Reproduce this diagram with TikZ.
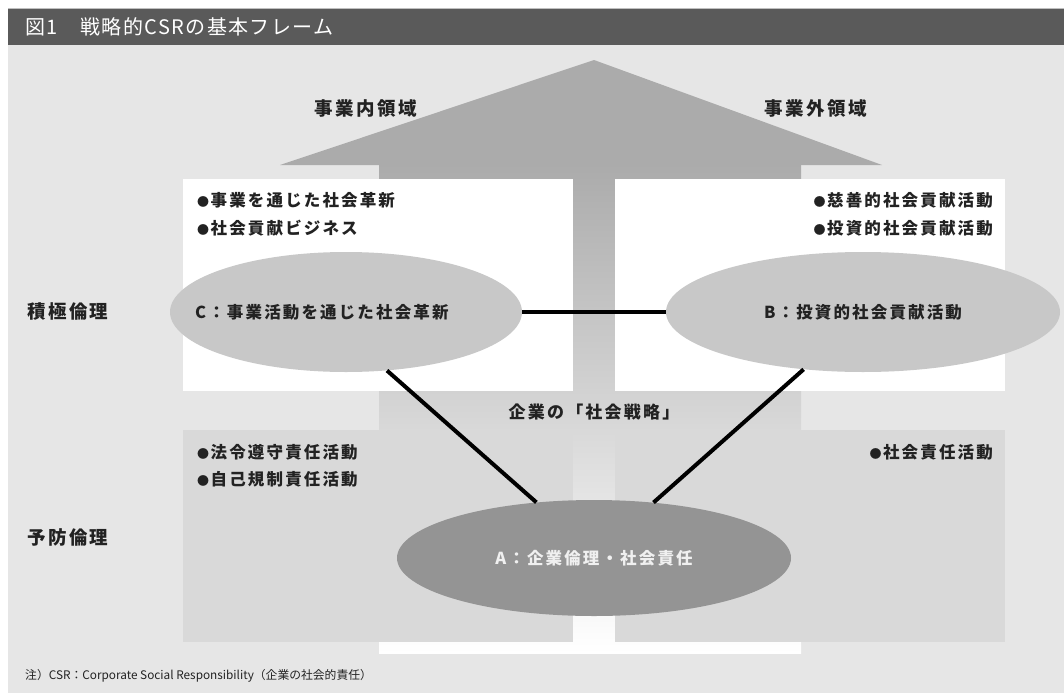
\documentclass[tikz,border=0pt]{standalone}
\usepackage{fontspec}
\setmainfont{Noto Sans CJK JP}
\newfontfamily\jpsp[LetterSpace=13]{Noto Sans CJK JP}
\newfontfamily\jptitle[LetterSpace=7]{Noto Sans CJK JP}
\usetikzlibrary{shapes.geometric}
\definecolor{panel}{HTML}{E6E6E6}
\definecolor{bar}{HTML}{5A5A5A}
\definecolor{headc}{HTML}{ABABAB}
\definecolor{lowbox}{HTML}{D9D9D9}
\definecolor{ellC}{HTML}{C8C8C8}
\definecolor{ellA}{HTML}{949494}
\definecolor{txt}{HTML}{222222}
\newcommand\bul{{\fontsize{12}{12}\selectfont ●}\hspace{1.5pt}}
\tikzset{
  lbl/.style={inner sep=0pt, text=txt, font=\jpsp\bfseries\fontsize{16.5}{18}\selectfont},
  big/.style={inner sep=0pt, text=txt, font=\jpsp\bfseries\fontsize{18.5}{21}\selectfont},
  ell/.style={ellipse, inner sep=0pt},
  link/.style={line width=4pt, black},
}
\begin{document}
\begin{tikzpicture}[x=1pt,y=-1pt]
\useasboundingbox (0,0) rectangle (1064,693);
\fill[white] (0,0) rectangle (1064,693);
\fill[panel] (8,45) rectangle (1064,693);
\fill[bar] (8,8) rectangle (1064,45);
\draw[white!75!black, line width=1pt] (8,8.5) -- (1064,8.5);
\node[anchor=west, inner sep=0pt, text=white, font=\jptitle\fontsize{20}{22}\selectfont] (title) at (25,27) {図1　戦略的CSRの基本フレーム};
% big arrow
\shade[top color=headc, bottom color=white] (379,164) rectangle (801,653);
\fill[headc] (280,165) -- (594,60) -- (882,165) -- cycle;
% boxes
\fill[white] (183,179) rectangle (573,391);
\fill[white] (615,179) rectangle (1005,391);
\fill[lowbox] (183,430) rectangle (573,642);
\fill[lowbox] (615,430) rectangle (1005,642);
% labels
\node[big] (inner) at (366,108) {事業内領域};
\node[big] (outer) at (816,108) {事業外領域};
\node[big, anchor=west] (active) at (27,312) {積極倫理};
\node[big, anchor=west] (prevent) at (27,537) {予防倫理};
\node[lbl, anchor=west] (tl1) at (197,200) {\bul 事業を通じた社会革新};
\node[lbl, anchor=west] (tl2) at (197,228) {\bul 社会貢献ビジネス};
\node[lbl, anchor=east] (tr1) at (993,200) {\bul 慈善的社会貢献活動};
\node[lbl, anchor=east] (tr2) at (993,228) {\bul 投資的社会貢献活動};
\node[lbl, anchor=west] (bl1) at (197,452) {\bul 法令遵守責任活動};
\node[lbl, anchor=west] (bl2) at (197,479) {\bul 自己規制責任活動};
\node[lbl, anchor=east] (br1) at (993,452) {\bul 社会責任活動};
\node[lbl, font=\jpsp\bfseries\fontsize{17}{20}\selectfont] (strat) at (594,412) {企業の「社会戦略」};
% ellipses
\node[ell, fill=ellC, minimum width=352pt, minimum height=120pt] (C) at (346,312) {};
\node[lbl, anchor=west] (Ct) at (195,312) {C：事業活動を通じた社会革新};
\node[ell, fill=ellC, minimum width=394pt, minimum height=120pt, lbl] (B) at (863,312) {B：投資的社会貢献活動};
\node[ell, fill=ellA, minimum width=394pt, minimum height=116pt, lbl, text=white!94!black] (A) at (594,558) {A：企業倫理・社会責任};
% connectors
\draw[link] (C.east) -- (B.west);
\draw[link] (C.-55.6) -- (A.136.4);
\draw[link] (B.-136.4) -- (A.43.6);
% footnote
\node[anchor=west, inner sep=0pt, text=txt, font=\fontsize{11.8}{14}\selectfont] (note) at (25,676) {注）CSR：Corporate Social Responsibility（企業の社会的責任）};
\end{tikzpicture}
\end{document}
